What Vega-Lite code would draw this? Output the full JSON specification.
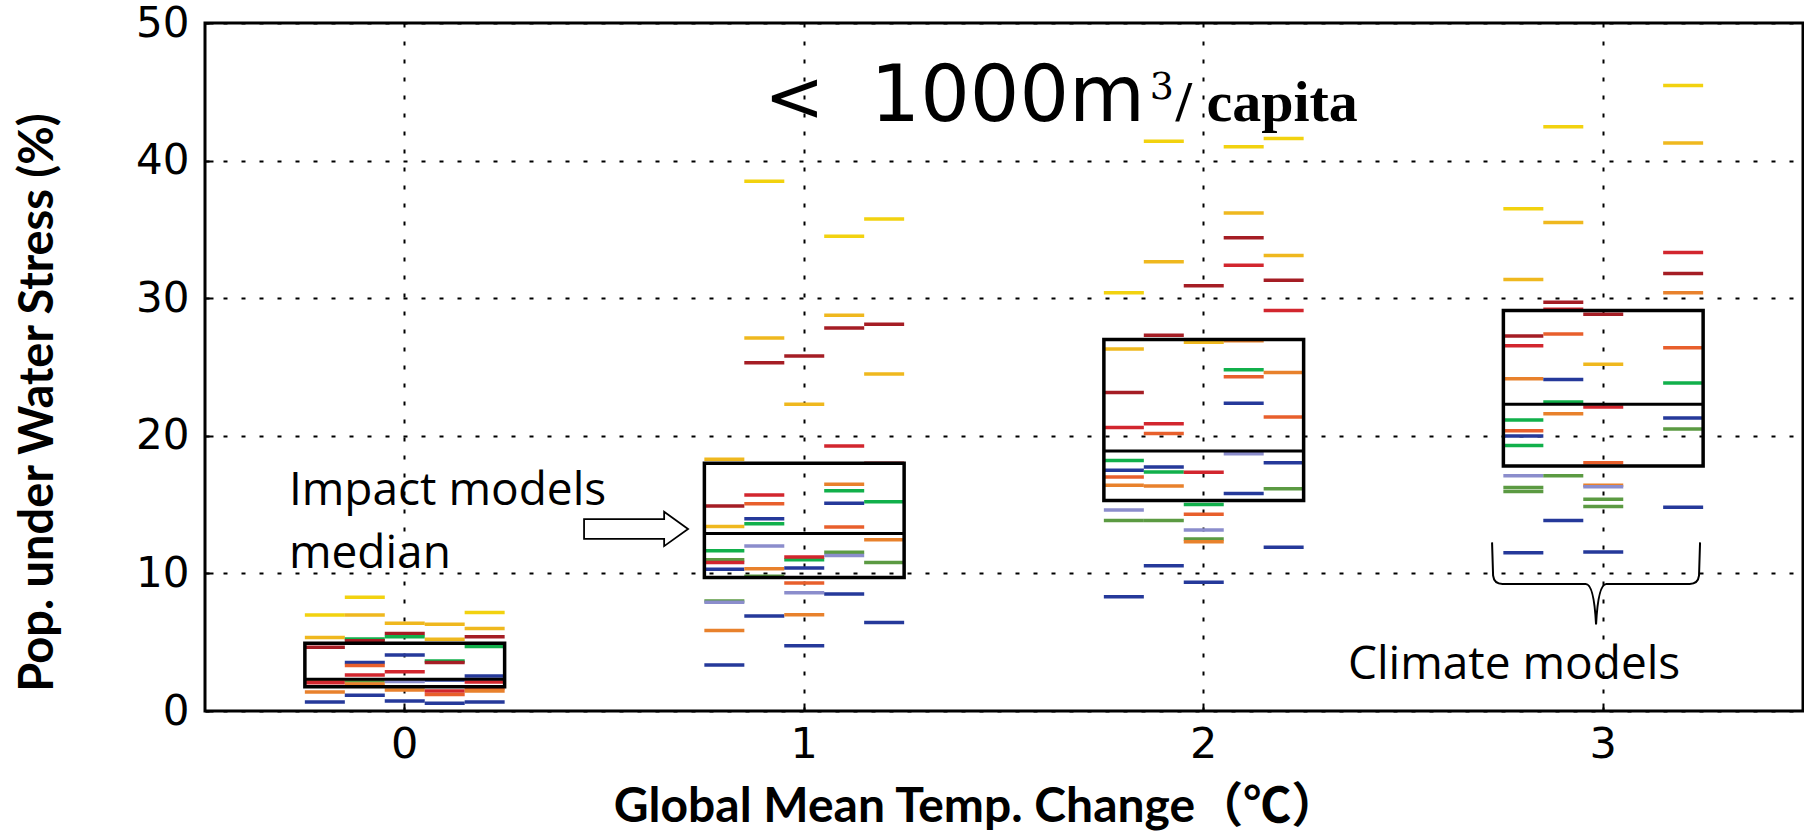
{
  "$schema": "https://vega.github.io/schema/vega-lite/v6.json",
  "width": 1598,
  "height": 688,
  "autosize": {"type": "none"},
  "padding": {"left": 205, "top": 23, "right": 1, "bottom": 128},
  "background": "white",
  "config": {
    "view": {"stroke": "black", "strokeWidth": 3},
    "axis": {"labelColor": "black", "titleColor": "black"}
  },
  "datasets": {
    "dashes": [
      {"t": 0, "g": "A", "m": "yellow", "v": 6.98}, {"t": 0, "g": "A", "m": "gold", "v": 5.35}, {"t": 0, "g": "A", "m": "darkred", "v": 4.63}, {"t": 0, "g": "A", "m": "orangered", "v": 2.25}, {"t": 0, "g": "A", "m": "red", "v": 2.06}, {"t": 0, "g": "A", "m": "orange", "v": 1.38}, {"t": 0, "g": "A", "m": "blue", "v": 0.65},
      {"t": 0, "g": "B", "m": "yellow", "v": 8.26}, {"t": 0, "g": "B", "m": "gold", "v": 6.98}, {"t": 0, "g": "B", "m": "green", "v": 5.23}, {"t": 0, "g": "B", "m": "darkred", "v": 5.11}, {"t": 0, "g": "B", "m": "blue", "v": 3.52}, {"t": 0, "g": "B", "m": "orangered", "v": 3.3}, {"t": 0, "g": "B", "m": "red", "v": 2.62}, {"t": 0, "g": "B", "m": "olive", "v": 2.18}, {"t": 0, "g": "B", "m": "orange", "v": 1.96}, {"t": 0, "g": "B", "m": "blue", "v": 1.14},
      {"t": 0, "g": "C", "m": "gold", "v": 6.37}, {"t": 0, "g": "C", "m": "darkred", "v": 5.64}, {"t": 0, "g": "C", "m": "green", "v": 5.4}, {"t": 0, "g": "C", "m": "blue", "v": 4.07}, {"t": 0, "g": "C", "m": "red", "v": 2.86}, {"t": 0, "g": "C", "m": "lavender", "v": 2.14}, {"t": 0, "g": "C", "m": "orange", "v": 1.53}, {"t": 0, "g": "C", "m": "blue", "v": 0.73},
      {"t": 0, "g": "D", "m": "gold", "v": 6.3}, {"t": 0, "g": "D", "m": "gold", "v": 5.21}, {"t": 0, "g": "D", "m": "green", "v": 3.63}, {"t": 0, "g": "D", "m": "darkred", "v": 3.52}, {"t": 0, "g": "D", "m": "blue", "v": 2.25}, {"t": 0, "g": "D", "m": "red", "v": 1.45}, {"t": 0, "g": "D", "m": "orangered", "v": 1.2}, {"t": 0, "g": "D", "m": "blue", "v": 0.56},
      {"t": 0, "g": "E", "m": "yellow", "v": 7.15}, {"t": 0, "g": "E", "m": "gold", "v": 6.0}, {"t": 0, "g": "E", "m": "darkred", "v": 5.4}, {"t": 0, "g": "E", "m": "green", "v": 4.68}, {"t": 0, "g": "E", "m": "blue", "v": 2.55}, {"t": 0, "g": "E", "m": "red", "v": 2.1}, {"t": 0, "g": "E", "m": "orangered", "v": 1.65}, {"t": 0, "g": "E", "m": "orange", "v": 1.45}, {"t": 0, "g": "E", "m": "blue", "v": 0.65},

      {"t": 1, "g": "A", "m": "gold", "v": 18.3}, {"t": 1, "g": "A", "m": "darkred", "v": 14.9}, {"t": 1, "g": "A", "m": "gold", "v": 13.4}, {"t": 1, "g": "A", "m": "green", "v": 11.65}, {"t": 1, "g": "A", "m": "olive", "v": 11.0}, {"t": 1, "g": "A", "m": "red", "v": 10.8}, {"t": 1, "g": "A", "m": "blue", "v": 10.3}, {"t": 1, "g": "A", "m": "olive", "v": 8.0}, {"t": 1, "g": "A", "m": "lavender", "v": 7.9}, {"t": 1, "g": "A", "m": "orange", "v": 5.85}, {"t": 1, "g": "A", "m": "blue", "v": 3.35},
      {"t": 1, "g": "B", "m": "yellow", "v": 38.5}, {"t": 1, "g": "B", "m": "gold", "v": 27.1}, {"t": 1, "g": "B", "m": "darkred", "v": 25.3}, {"t": 1, "g": "B", "m": "red", "v": 15.7}, {"t": 1, "g": "B", "m": "orangered", "v": 15.07}, {"t": 1, "g": "B", "m": "blue", "v": 13.98}, {"t": 1, "g": "B", "m": "green", "v": 13.6}, {"t": 1, "g": "B", "m": "lavender", "v": 12.0}, {"t": 1, "g": "B", "m": "orange", "v": 10.34}, {"t": 1, "g": "B", "m": "olive", "v": 9.8}, {"t": 1, "g": "B", "m": "blue", "v": 6.9},
      {"t": 1, "g": "C", "m": "darkred", "v": 25.8}, {"t": 1, "g": "C", "m": "gold", "v": 22.3}, {"t": 1, "g": "C", "m": "green", "v": 11.0}, {"t": 1, "g": "C", "m": "red", "v": 11.2}, {"t": 1, "g": "C", "m": "blue", "v": 10.4}, {"t": 1, "g": "C", "m": "orangered", "v": 9.3}, {"t": 1, "g": "C", "m": "lavender", "v": 8.6}, {"t": 1, "g": "C", "m": "orange", "v": 7.0}, {"t": 1, "g": "C", "m": "blue", "v": 4.75},
      {"t": 1, "g": "D", "m": "yellow", "v": 34.5}, {"t": 1, "g": "D", "m": "gold", "v": 28.76}, {"t": 1, "g": "D", "m": "darkred", "v": 27.84}, {"t": 1, "g": "D", "m": "red", "v": 19.25}, {"t": 1, "g": "D", "m": "orange", "v": 16.48}, {"t": 1, "g": "D", "m": "green", "v": 16.0}, {"t": 1, "g": "D", "m": "blue", "v": 15.1}, {"t": 1, "g": "D", "m": "orangered", "v": 13.37}, {"t": 1, "g": "D", "m": "olive", "v": 11.53}, {"t": 1, "g": "D", "m": "lavender", "v": 11.3}, {"t": 1, "g": "D", "m": "blue", "v": 8.5},
      {"t": 1, "g": "E", "m": "yellow", "v": 35.75}, {"t": 1, "g": "E", "m": "darkred", "v": 28.1}, {"t": 1, "g": "E", "m": "gold", "v": 24.5}, {"t": 1, "g": "E", "m": "darkred", "v": 18.0}, {"t": 1, "g": "E", "m": "green", "v": 15.2}, {"t": 1, "g": "E", "m": "orange", "v": 12.45}, {"t": 1, "g": "E", "m": "olive", "v": 10.8}, {"t": 1, "g": "E", "m": "blue", "v": 6.43},

      {"t": 2, "g": "A", "m": "yellow", "v": 30.4}, {"t": 2, "g": "A", "m": "gold", "v": 26.3}, {"t": 2, "g": "A", "m": "darkred", "v": 23.14}, {"t": 2, "g": "A", "m": "red", "v": 20.6}, {"t": 2, "g": "A", "m": "green", "v": 18.2}, {"t": 2, "g": "A", "m": "blue", "v": 17.5}, {"t": 2, "g": "A", "m": "orangered", "v": 17.0}, {"t": 2, "g": "A", "m": "orange", "v": 16.4}, {"t": 2, "g": "A", "m": "lavender", "v": 14.6}, {"t": 2, "g": "A", "m": "olive", "v": 13.85}, {"t": 2, "g": "A", "m": "blue", "v": 8.3},
      {"t": 2, "g": "B", "m": "yellow", "v": 41.4}, {"t": 2, "g": "B", "m": "gold", "v": 32.65}, {"t": 2, "g": "B", "m": "darkred", "v": 27.3}, {"t": 2, "g": "B", "m": "red", "v": 20.88}, {"t": 2, "g": "B", "m": "orangered", "v": 20.17}, {"t": 2, "g": "B", "m": "blue", "v": 17.74}, {"t": 2, "g": "B", "m": "green", "v": 17.37}, {"t": 2, "g": "B", "m": "orange", "v": 16.35}, {"t": 2, "g": "B", "m": "olive", "v": 13.85}, {"t": 2, "g": "B", "m": "blue", "v": 10.56},
      {"t": 2, "g": "C", "m": "darkred", "v": 30.9}, {"t": 2, "g": "C", "m": "gold", "v": 26.8}, {"t": 2, "g": "C", "m": "red", "v": 17.35}, {"t": 2, "g": "C", "m": "green", "v": 15.0}, {"t": 2, "g": "C", "m": "orangered", "v": 14.3}, {"t": 2, "g": "C", "m": "lavender", "v": 13.16}, {"t": 2, "g": "C", "m": "olive", "v": 12.5}, {"t": 2, "g": "C", "m": "orange", "v": 12.3}, {"t": 2, "g": "C", "m": "blue", "v": 9.36},
      {"t": 2, "g": "D", "m": "yellow", "v": 41.0}, {"t": 2, "g": "D", "m": "gold", "v": 36.2}, {"t": 2, "g": "D", "m": "darkred", "v": 34.4}, {"t": 2, "g": "D", "m": "red", "v": 32.4}, {"t": 2, "g": "D", "m": "orange", "v": 26.9}, {"t": 2, "g": "D", "m": "green", "v": 24.8}, {"t": 2, "g": "D", "m": "orangered", "v": 24.3}, {"t": 2, "g": "D", "m": "blue", "v": 22.36}, {"t": 2, "g": "D", "m": "lavender", "v": 18.7}, {"t": 2, "g": "D", "m": "blue", "v": 15.8},
      {"t": 2, "g": "E", "m": "yellow", "v": 41.6}, {"t": 2, "g": "E", "m": "gold", "v": 33.1}, {"t": 2, "g": "E", "m": "darkred", "v": 31.3}, {"t": 2, "g": "E", "m": "red", "v": 29.1}, {"t": 2, "g": "E", "m": "orange", "v": 24.6}, {"t": 2, "g": "E", "m": "orangered", "v": 21.36}, {"t": 2, "g": "E", "m": "blue", "v": 18.05}, {"t": 2, "g": "E", "m": "olive", "v": 16.15}, {"t": 2, "g": "E", "m": "blue", "v": 11.9},

      {"t": 3, "g": "A", "m": "yellow", "v": 36.5}, {"t": 3, "g": "A", "m": "gold", "v": 31.36}, {"t": 3, "g": "A", "m": "darkred", "v": 27.25}, {"t": 3, "g": "A", "m": "red", "v": 26.55}, {"t": 3, "g": "A", "m": "orange", "v": 24.14}, {"t": 3, "g": "A", "m": "green", "v": 21.14}, {"t": 3, "g": "A", "m": "orangered", "v": 20.36}, {"t": 3, "g": "A", "m": "blue", "v": 19.98}, {"t": 3, "g": "A", "m": "green", "v": 19.3}, {"t": 3, "g": "A", "m": "lavender", "v": 17.1}, {"t": 3, "g": "A", "m": "olive", "v": 16.25}, {"t": 3, "g": "A", "m": "olive", "v": 15.96}, {"t": 3, "g": "A", "m": "blue", "v": 11.5},
      {"t": 3, "g": "B", "m": "yellow", "v": 42.46}, {"t": 3, "g": "B", "m": "gold", "v": 35.5}, {"t": 3, "g": "B", "m": "darkred", "v": 29.7}, {"t": 3, "g": "B", "m": "red", "v": 29.2}, {"t": 3, "g": "B", "m": "orangered", "v": 27.4}, {"t": 3, "g": "B", "m": "blue", "v": 24.1}, {"t": 3, "g": "B", "m": "green", "v": 22.46}, {"t": 3, "g": "B", "m": "orange", "v": 21.6}, {"t": 3, "g": "B", "m": "olive", "v": 17.1}, {"t": 3, "g": "B", "m": "blue", "v": 13.85},
      {"t": 3, "g": "C", "m": "darkred", "v": 28.83}, {"t": 3, "g": "C", "m": "gold", "v": 25.2}, {"t": 3, "g": "C", "m": "red", "v": 22.1}, {"t": 3, "g": "C", "m": "orangered", "v": 18.05}, {"t": 3, "g": "C", "m": "orange", "v": 16.4}, {"t": 3, "g": "C", "m": "lavender", "v": 16.3}, {"t": 3, "g": "C", "m": "olive", "v": 15.38}, {"t": 3, "g": "C", "m": "olive", "v": 14.87}, {"t": 3, "g": "C", "m": "blue", "v": 11.55},
      {"t": 3, "g": "E", "m": "yellow", "v": 45.45}, {"t": 3, "g": "E", "m": "gold", "v": 41.27}, {"t": 3, "g": "E", "m": "red", "v": 33.33}, {"t": 3, "g": "E", "m": "darkred", "v": 31.8}, {"t": 3, "g": "E", "m": "orange", "v": 30.4}, {"t": 3, "g": "E", "m": "orangered", "v": 26.4}, {"t": 3, "g": "E", "m": "green", "v": 23.84}, {"t": 3, "g": "E", "m": "blue", "v": 21.3}, {"t": 3, "g": "E", "m": "olive", "v": 20.5}, {"t": 3, "g": "E", "m": "blue", "v": 14.8}
    ],
    "boxes": [
      {"t": 0, "v": 1.77, "v2": 4.92},
      {"t": 1, "v": 9.7, "v2": 18.0},
      {"t": 2, "v": 15.3, "v2": 27.0},
      {"t": 3, "v": 17.8, "v2": 29.1}
    ],
    "medians": [
      {"t": 0, "v": 2.3},
      {"t": 1, "v": 12.9},
      {"t": 2, "v": 18.9},
      {"t": 3, "v": 22.3}
    ]
  },
  "encoding": {
    "y": {
      "field": "v", "type": "quantitative",
      "scale": {"domain": [0, 50], "nice": false, "zero": true},
      "axis": {
        "title": "Pop. under Water Stress (%)", "values": [0, 10, 20, 30, 40, 50],
        "grid": true, "gridColor": "#000", "gridDash": [4, 14], "gridWidth": 2, "gridOpacity": 1,
        "ticks": true, "tickSize": -8, "tickColor": "#000", "tickWidth": 2, "domain": false,
        "labelFont": "DejaVu Sans", "labelFontSize": 42, "labelPadding": 24,
        "titleFont": "Lato", "titleFontWeight": "bold", "titleFontSize": 47,
        "titleX": -153, "titleY": 379, "titleAlign": "center", "titleBaseline": "alphabetic", "titleAngle": -90
      }
    }
  },
  "resolve": {"scale": {"x": "independent"}},
  "layer": [
    {
      "data": {"name": "dashes"},
      "mark": {"type": "tick", "size": 40, "thickness": 3.5, "opacity": 1},
      "encoding": {
        "x": {
          "field": "t", "type": "ordinal",
          "scale": {"paddingInner": 0, "paddingOuter": 0},
          "axis": {
            "title": "Global Mean Temp. Change（℃）", "labelAngle": 0,
            "grid": true, "gridColor": "#000", "gridDash": [4, 14], "gridWidth": 2, "gridOpacity": 1,
            "bandPosition": 0.5, "ticks": true, "tickSize": -8, "tickColor": "#000", "tickWidth": 2, "tickBand": "center", "domain": false,
            "labelFont": "DejaVu Sans", "labelFontSize": 43, "labelPadding": 20,
            "titleFont": "Lato, Noto Sans CJK JP", "titleFontWeight": "bold", "titleFontSize": 48,
            "titleX": 771, "titleY": 110, "titleAlign": "center", "titleBaseline": "alphabetic"
          }
        },
        "xOffset": {"field": "g", "type": "nominal", "scale": {"domain": ["l1", "l2", "A", "B", "C", "D", "E", "r1", "r2"], "paddingInner": 0, "paddingOuter": 0.5}},
        "color": {
          "field": "m", "type": "nominal", "legend": null,
          "scale": {
            "domain": ["yellow", "gold", "darkred", "red", "orange", "orangered", "green", "olive", "blue", "lavender"],
            "range": ["#f2d20f", "#efb81e", "#a51d24", "#d2262e", "#e8812c", "#e85f2c", "#11b04b", "#5b9a42", "#25399a", "#8b8dcc"]
          }
        }
      }
    },
    {
      "data": {"name": "boxes"},
      "mark": {"type": "bar", "width": {"band": 0.5}, "fillOpacity": 0, "stroke": "black", "strokeWidth": 3.5},
      "encoding": {
        "x": {"field": "t", "type": "ordinal", "scale": {"paddingInner": 0, "paddingOuter": 0}, "axis": null},
        "y2": {"field": "v2"}
      }
    },
    {
      "data": {"name": "medians"},
      "mark": {"type": "tick", "size": 200, "thickness": 3, "color": "black", "opacity": 1},
      "encoding": {
        "x": {"field": "t", "type": "ordinal", "scale": {"paddingInner": 0, "paddingOuter": 0}, "axis": null}
      }
    },
    {
      "data": {"values": [{"x": 0.9, "v": 42.88, "label": "<"}]},
      "mark": {"type": "text", "align": "left", "baseline": "alphabetic", "font": "DejaVu Sans", "fontSize": 72, "color": "black"},
      "encoding": {
        "x": {"field": "x", "type": "quantitative", "scale": {"domain": [-0.5, 3.5], "nice": false, "zero": false}, "axis": null},
        "text": {"field": "label"}
      }
    },
    {
      "data": {"values": [{"x": 1.853, "v": 42.88, "label": "1000m"}]},
      "mark": {"type": "text", "align": "right", "baseline": "alphabetic", "font": "DejaVu Sans", "fontSize": 78, "color": "black"},
      "encoding": {
        "x": {"field": "x", "type": "quantitative", "scale": {"domain": [-0.5, 3.5], "nice": false, "zero": false}, "axis": null},
        "text": {"field": "label"}
      }
    },
    {
      "data": {"values": [{"x": 1.865, "v": 44.5, "label": "3"}]},
      "mark": {"type": "text", "align": "left", "baseline": "alphabetic", "font": "DejaVu Serif", "fontSize": 38, "color": "black"},
      "encoding": {
        "x": {"field": "x", "type": "quantitative", "scale": {"domain": [-0.5, 3.5], "nice": false, "zero": false}, "axis": null},
        "text": {"field": "label"}
      }
    },
    {
      "data": {"values": [{"x": 1.93, "v": 42.88, "label": "/ capita"}]},
      "mark": {"type": "text", "align": "left", "baseline": "alphabetic", "font": "Liberation Serif", "fontWeight": "bold", "fontSize": 58, "color": "black"},
      "encoding": {
        "x": {"field": "x", "type": "quantitative", "scale": {"domain": [-0.5, 3.5], "nice": false, "zero": false}, "axis": null},
        "text": {"field": "label"}
      }
    },
    {
      "data": {"values": [
        {"x": -0.29, "v": 14.97, "label": "Impact models"},
        {"x": -0.29, "v": 10.39, "label": "median"},
        {"x": 2.361, "v": 2.33, "label": "Climate models"}
      ]},
      "mark": {"type": "text", "align": "left", "baseline": "alphabetic", "font": "Open Sans", "fontSize": 46, "color": "black"},
      "encoding": {
        "x": {"field": "x", "type": "quantitative", "scale": {"domain": [-0.5, 3.5], "nice": false, "zero": false}, "axis": null},
        "text": {"field": "label"}
      }
    },
    {
      "data": {"values": [{"x": 0.579, "v": 13.23}]},
      "mark": {"type": "point", "shape": "M -1 -0.19 L 0.54 -0.19 L 0.54 -0.33 L 1 0 L 0.54 0.33 L 0.54 0.19 L -1 0.19 Z", "size": 10816, "filled": true, "fill": "white", "stroke": "black", "strokeWidth": 1.8, "opacity": 1},
      "encoding": {
        "x": {"field": "x", "type": "quantitative", "scale": {"domain": [-0.5, 3.5], "nice": false, "zero": false}, "axis": null}
      }
    },
    {
      "data": {"values": [{"x": 2.982, "v": 9.23}]},
      "mark": {"type": "point", "shape": "M -1 -0.4 L -0.99 -0.08 Q -0.98 0 -0.9 0 L -0.1 0 Q -0.02 0 0 0.39 Q 0.02 0 0.1 0 L 0.9 0 Q 0.98 0 0.99 -0.08 L 1 -0.4", "size": 43264, "filled": false, "stroke": "black", "strokeWidth": 2, "opacity": 1},
      "encoding": {
        "x": {"field": "x", "type": "quantitative", "scale": {"domain": [-0.5, 3.5], "nice": false, "zero": false}, "axis": null}
      }
    }
  ]
}
